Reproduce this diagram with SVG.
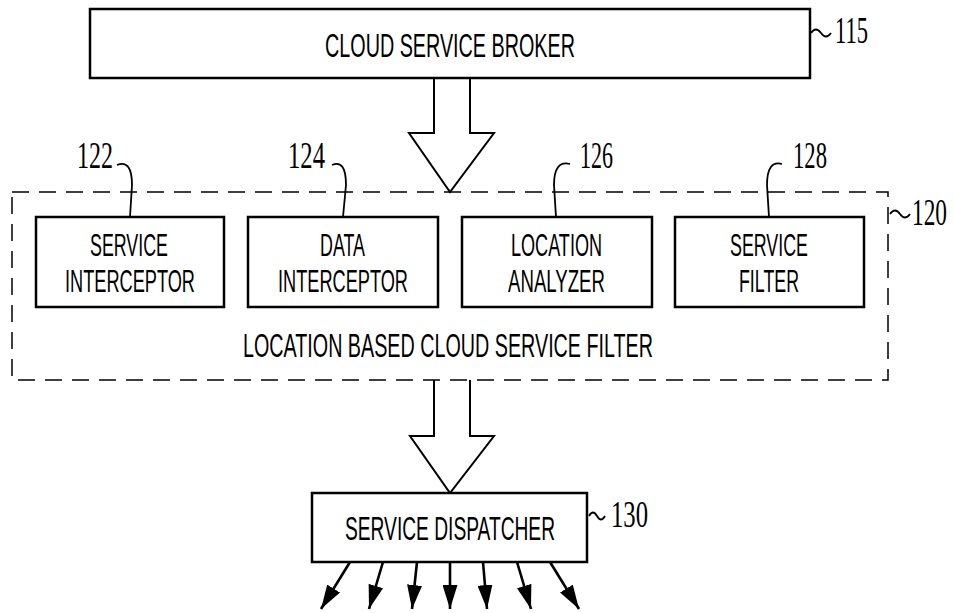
<svg xmlns="http://www.w3.org/2000/svg" width="954" height="613" viewBox="0 0 954 613">
<style>
.box{fill:#fff;stroke:#000;stroke-width:2.5}
.dash{fill:none;stroke:#000;stroke-width:1.5;stroke-dasharray:17,10}
.ln{fill:none;stroke:#000;stroke-width:1.8}
.ar{fill:none;stroke:#000;stroke-width:2.6}
.big{fill:#fff;stroke:#000;stroke-width:2}
.t{font-family:"Liberation Sans",Arial,sans-serif;font-size:34px;fill:#000}
.s{font-family:"Liberation Sans",Arial,sans-serif;font-size:32px;fill:#000}
.n{font-family:"Liberation Serif","Times New Roman",serif;font-size:37px;fill:#000}
</style>
<defs>
<marker id="ah" viewBox="0 0 10 10" refX="10" refY="5" markerWidth="24" markerHeight="15" markerUnits="userSpaceOnUse" orient="auto" preserveAspectRatio="none">
<path d="M0,0 L10,5 L0,10 z" fill="#000"/>
</marker>
</defs>
<rect width="954" height="613" fill="#fff"/>

<g id="connectors">
<path class="big" d="M434,78 L434,133 L409,133 L450,192 L494,133 L470,133 L470,78"/>
<path class="big" d="M434,380 L434,436 L410,436 L450,493 L494,436 L470,436 L470,380"/>
<g class="ar" marker-end="url(#ah)">
<line x1="350" y1="562" x2="321" y2="609"/>
<line x1="383" y1="562" x2="369" y2="609"/>
<line x1="417" y1="562" x2="412" y2="609"/>
<line x1="450" y1="562" x2="450" y2="609"/>
<line x1="483" y1="562" x2="487" y2="609"/>
<line x1="517" y1="562" x2="531" y2="609"/>
<line x1="550" y1="562" x2="579" y2="609"/>
</g>
</g>

<g id="broker">
<rect class="box" x="90" y="9" width="720" height="69"/>
<text class="t" x="325" y="57" textLength="250" lengthAdjust="spacingAndGlyphs">CLOUD SERVICE BROKER</text>
<path class="ln" d="M811,33 q5,-7 10,0 t10,0"/>
<text class="n" x="835" y="43" textLength="33" lengthAdjust="spacingAndGlyphs">115</text>
</g>

<g id="filter">
<rect class="dash" x="12" y="192" width="876" height="188"/>
<text class="t" x="243" y="357" textLength="410" lengthAdjust="spacingAndGlyphs">LOCATION BASED CLOUD SERVICE FILTER</text>
<path class="ln" d="M890,214 q5,-7 10,0 t10,0"/>
<text class="n" x="912" y="225" textLength="35" lengthAdjust="spacingAndGlyphs">120</text>
</g>

<g id="service-interceptor">
<rect class="box" x="36" y="217" width="188" height="90"/>
<text class="s" x="90" y="256" textLength="78" lengthAdjust="spacingAndGlyphs">SERVICE</text>
<text class="s" x="65" y="292" textLength="130" lengthAdjust="spacingAndGlyphs">INTERCEPTOR</text>
<path class="ln" d="M117,165 Q132,159 132,185 L130,217"/>
<text class="n" x="77" y="168" textLength="36" lengthAdjust="spacingAndGlyphs">122</text>
</g>

<g id="data-interceptor">
<rect class="box" x="248" y="217" width="190" height="90"/>
<text class="s" x="320" y="256" textLength="45" lengthAdjust="spacingAndGlyphs">DATA</text>
<text class="s" x="278" y="292" textLength="130" lengthAdjust="spacingAndGlyphs">INTERCEPTOR</text>
<path class="ln" d="M332,165 Q346,159 346,185 L343,217"/>
<text class="n" x="288" y="168" textLength="37" lengthAdjust="spacingAndGlyphs">124</text>
</g>

<g id="location-analyzer">
<rect class="box" x="462" y="217" width="190" height="90"/>
<text class="s" x="511" y="256" textLength="91" lengthAdjust="spacingAndGlyphs">LOCATION</text>
<text class="s" x="508" y="292" textLength="97" lengthAdjust="spacingAndGlyphs">ANALYZER</text>
<path class="ln" d="M570,164 Q554,160 554,185 L556,217"/>
<text class="n" x="580" y="168" textLength="33" lengthAdjust="spacingAndGlyphs">126</text>
</g>

<g id="service-filter">
<rect class="box" x="675" y="217" width="189" height="90"/>
<text class="s" x="730" y="256" textLength="78" lengthAdjust="spacingAndGlyphs">SERVICE</text>
<text class="s" x="739" y="292" textLength="60" lengthAdjust="spacingAndGlyphs">FILTER</text>
<path class="ln" d="M782,164 Q767,160 767,185 L769,217"/>
<text class="n" x="793" y="168" textLength="34" lengthAdjust="spacingAndGlyphs">128</text>
</g>

<g id="dispatcher">
<rect class="box" x="312" y="493" width="275" height="69"/>
<text class="t" x="345" y="540" textLength="210" lengthAdjust="spacingAndGlyphs">SERVICE DISPATCHER</text>
<path class="ln" d="M589,516 q4,-7 8,0 t8,0"/>
<text class="n" x="611" y="527" textLength="37" lengthAdjust="spacingAndGlyphs">130</text>
</g>
</svg>
